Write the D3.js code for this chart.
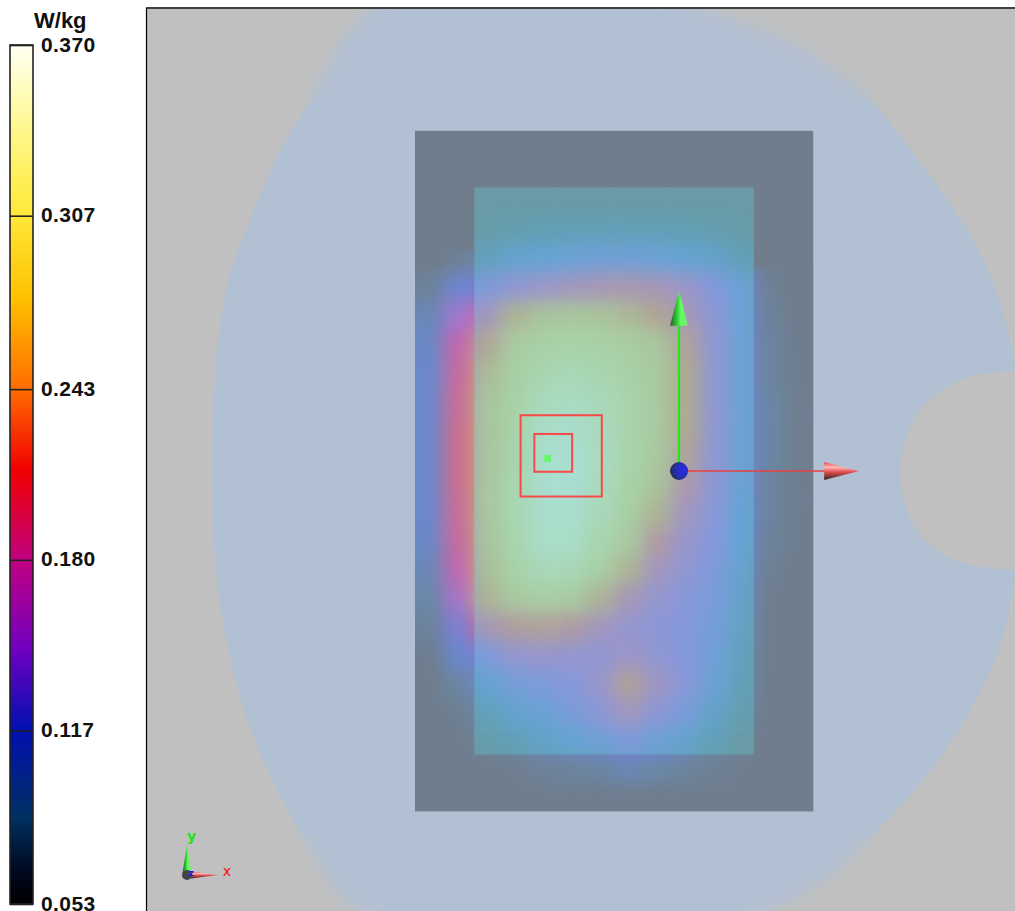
<!DOCTYPE html>
<html>
<head>
<meta charset="utf-8">
<title>SAR distribution</title>
<script src="https://d3js.org/d3.v7.min.js"></script>
<style>
  html, body { margin: 0; padding: 0; background: #fff; }
  svg { display: block; }
  .legend text { font: 700 21px "Liberation Sans", Arial, sans-serif; letter-spacing: 0.4px; fill: #111; }
  .legend line, .legend path { stroke: #222; stroke-width: 1.6px; }
</style>
</head>
<body>
<svg width="1015" height="911"></svg>
<script>
// colour bar, W/kg
var legendTicks = [0.370, 0.307, 0.243, 0.180, 0.117, 0.053];
var legendValues = [0.370, 0.350, 0.323, 0.307, 0.276, 0.243, 0.213, 0.180, 0.147, 0.117, 0.085, 0.065, 0.053];
var legendColors = ["#fffff4", "#fffcb0", "#fff060", "#ffe838", "#ffc000", "#ff6c00", "#f00000", "#c00080", "#7000c0", "#0010b0", "#003060", "#000820", "#000000"];

// display colours of the field over the plate and over the board
var plateValues = [0.053, 0.080, 0.105, 0.135, 0.165, 0.200, 0.225, 0.250, 0.290, 0.330, 0.370];
var plateColors = ["#6a9aa4", "#62a0b8", "#66a4d4", "#8498dc", "#9c96c8", "#b098a8", "#b0a890", "#a9c49c", "#a8d2a8", "#a8dcc4", "#a8e0e0"];
var boardValues = [0.053, 0.080, 0.105, 0.125, 0.145, 0.165, 0.190, 0.215, 0.240];
var boardColors = ["#6f7d8d", "#6a88a8", "#6a88cc", "#7080d8", "#a078d0", "#c068b0", "#cc7088", "#c89888", "#c8a880"];

// SAR, W/kg; 7.5 mm cells, rows top to bottom
var sarRows = [
  [.053,.053,.053,.053,.053,.053,.053,.053,.053,.053,.053,.053,.053,.053],
  [.053,.053,.053,.053,.053,.053,.053,.053,.053,.053,.053,.053,.053,.053],
  [.053,.053,.055,.055,.055,.055,.055,.055,.055,.055,.055,.055,.053,.053],
  [.053,.053,.060,.070,.075,.080,.080,.080,.080,.075,.070,.060,.053,.053],
  [.053,.060,.085,.100,.105,.110,.115,.115,.110,.105,.095,.080,.053,.053],
  [.065,.110,.130,.150,.165,.175,.185,.190,.180,.165,.135,.110,.060,.053],
  [.090,.145,.175,.235,.250,.255,.250,.240,.220,.185,.145,.110,.065,.053],
  [.100,.165,.220,.270,.285,.290,.285,.275,.255,.215,.150,.110,.070,.053],
  [.105,.175,.240,.280,.300,.310,.300,.285,.265,.225,.150,.110,.070,.055],
  [.105,.180,.250,.285,.320,.325,.315,.295,.265,.225,.150,.110,.075,.055],
  [.105,.185,.250,.290,.335,.340,.320,.295,.265,.225,.150,.110,.075,.055],
  [.105,.185,.255,.295,.345,.350,.325,.295,.260,.215,.150,.110,.075,.055],
  [.105,.185,.255,.300,.345,.350,.320,.290,.250,.195,.145,.110,.070,.055],
  [.105,.180,.255,.300,.340,.345,.315,.280,.235,.175,.140,.105,.070,.055],
  [.100,.175,.250,.300,.335,.335,.300,.265,.205,.160,.135,.105,.065,.055],
  [.090,.165,.245,.290,.315,.310,.280,.235,.175,.150,.130,.100,.060,.053],
  [.080,.150,.235,.265,.280,.270,.235,.185,.155,.140,.125,.095,.055,.053],
  [.068,.130,.185,.210,.215,.205,.175,.155,.145,.135,.120,.090,.053,.053],
  [.056,.105,.130,.155,.160,.155,.150,.165,.150,.135,.115,.085,.053,.053],
  [.053,.075,.105,.120,.130,.140,.160,.215,.170,.140,.110,.080,.053,.053],
  [.053,.058,.085,.100,.110,.125,.145,.175,.145,.125,.095,.070,.053,.053],
  [.053,.053,.065,.080,.095,.105,.115,.130,.115,.100,.080,.058,.053,.053],
  [.053,.053,.053,.055,.065,.070,.075,.090,.080,.070,.060,.055,.053,.053],
  [.053,.053,.053,.053,.053,.053,.053,.053,.053,.053,.053,.053,.053,.053]
];

// outlines and boxes, mm from the feed point
var phantomOutline = [[-82.5,121.4],[-98.4,96.8],[-105.6,84.7],[-114.3,64.6],[-119.6,49.2],[-122.8,26.2],[-123.5,-1.6],[-122.8,-24.6],[-119.6,-46],[-114.3,-66],[-105.6,-86],[-98.4,-98.4],[-86,-115.3],[-30,-135],[25.9,-115.3],[39.2,-107.4],[51.3,-96.3],[67.2,-78.3],[76.2,-65],[84.9,-46.6],[88.9,-27],[90.5,0],[88.9,27.5],[84.9,44.7],[79.6,57.7],[70.9,72],[61.9,84.1],[51.3,97.4],[39.2,107.4],[26.7,114.5],[5.5,122.5],[-40,135]];
var notchOutline = [[105,26.5],[88.9,26.5],[75.1,24.3],[65.6,18.3],[60.6,10.3],[58.5,0],[60.6,-11.1],[65.6,-19],[75.1,-24.3],[88.9,-26.2],[105,-26.2]];
var boardBox = { x0: -69.9, x1: 35.5, y0: -90, y1: 90 };
var plateBox = { x0: -54.2, x1: 19.8, y0: -75, y1: 75 };
var fieldTop = 54;
var cube10g = { cx: -31.2, cy: 4, edge: 21.5 };
var cube1g = { cx: -33.3, cy: 4.8, edge: 10 };
var peakPoint = [-34.9, 3.2];
var axisLength = 47.6, coneLength = 9.2, coneHalf = 2.4;

var svg = d3.select("svg");
var defs = svg.append("defs");

var x = d3.scaleLinear().domain([-70, 35.5]).range([414.6, 813.2]);
var y = d3.scaleLinear().domain([-90, 90]).range([811.2, 130.8]);
var legendY = d3.scaleLinear().domain([0.370, 0.053]).range([45, 904]);
var plateColor = d3.scaleLinear().domain(plateValues).range(plateColors).clamp(true);
var boardColor = d3.scaleLinear().domain(boardValues).range(boardColors).clamp(true);

function gradient(id, x1, y1, x2, y2, stops) {
  var g = defs.append("linearGradient").attr("id", id)
      .attr("x1", x1).attr("y1", y1).attr("x2", x2).attr("y2", y2);
  stops.forEach(function(s) { g.append("stop").attr("offset", s[0]).attr("stop-color", s[1]); });
}
function clip(id, rects) {
  var c = defs.append("clipPath").attr("id", id);
  rects.forEach(function(r) {
    c.append("rect").attr("x", r[0]).attr("y", r[1]).attr("width", r[2]).attr("height", r[3]);
  });
}
function blur(id, amount) {
  defs.append("filter").attr("id", id)
      .attr("filterUnits", "userSpaceOnUse").attr("x", 0).attr("y", 0).attr("width", 1015).attr("height", 911)
      .attr("color-interpolation-filters", "sRGB")
    .append("feGaussianBlur").attr("stdDeviation", amount);
}

blur("soft", 9);
blur("fade", 7);
clip("frame", [[147, 9, 868, 902]]);
clip("phantomSharp", [[147, 100, 868, 736]]);
clip("fadeClip", [[147, 8, 726, 92], [147, 836, 726, 75]]);
clip("boardClip", [
  [x(boardBox.x0), y(fieldTop), x(boardBox.x1) - x(boardBox.x0), y(boardBox.y0) - y(fieldTop)],
  [443, 250, 31, y(fieldTop) - 250]
]);
clip("plateClip", [[x(plateBox.x0), y(plateBox.y1), x(plateBox.x1) - x(plateBox.x0), y(plateBox.y0) - y(plateBox.y1)]]);

// legend
var legend = svg.append("g").attr("class", "legend");
gradient("legendRamp", 0, 0, 0, 1, legendValues.map(function(v, i) {
  return [(legendY(v) - 45) / 859, legendColors[i]];
}));
legend.append("rect")
    .attr("x", 10).attr("y", legendY(0.370))
    .attr("width", 23).attr("height", legendY(0.053) - legendY(0.370))
    .attr("fill", "url(#legendRamp)")
    .attr("stroke", "#222").attr("stroke-width", 1.6);
legend.append("g").attr("transform", "translate(33,0)")
    .call(d3.axisRight(legendY).tickValues(legendTicks).tickFormat(d3.format(".3f"))
      .tickSize(-23).tickPadding(8));
legend.select(".domain").remove();
legend.selectAll(".tick text").attr("x", 8).attr("dy", "0.29em");
legend.append("text").attr("x", 34).attr("y", 28).style("font-size", "22px").style("letter-spacing", "0").text("W/kg");

// view
var view = svg.append("g").attr("clip-path", "url(#frame)");
view.append("rect").attr("x", 147).attr("y", 8).attr("width", 868).attr("height", 903).attr("fill", "#c0c0c0");

var straight = d3.line().x(function(d) { return x(d[0]); }).y(function(d) { return y(d[1]); });
var phantomPath = d3.line().x(function(d) { return x(d[0]); }).y(function(d) { return y(d[1]); })
    .curve(d3.curveCatmullRomClosed)(phantomOutline);
view.append("g").attr("clip-path", "url(#fadeClip)")
  .append("path").attr("d", phantomPath).attr("fill", "#b2c0d3").attr("filter", "url(#fade)");
view.append("g").attr("clip-path", "url(#phantomSharp)")
  .append("path").attr("d", phantomPath).attr("fill", "#b2c0d3");
view.append("path")
    .attr("d", d3.line().x(function(d) { return x(d[0]); }).y(function(d) { return y(d[1]); })
      .curve(d3.curveCatmullRom)(notchOutline))
    .attr("fill", "#c0c0c0");

view.append("rect")
    .attr("x", x(boardBox.x0)).attr("y", y(boardBox.y1))
    .attr("width", x(boardBox.x1) - x(boardBox.x0)).attr("height", y(boardBox.y0) - y(boardBox.y1))
    .attr("fill", boardColors[0]);

// field cells, the outermost ones run on past the clip so the blur does not fade out
var cellSize = 105.5 / sarRows[0].length;
var cellHeight = 180 / sarRows.length;
var cells = [];
sarRows.forEach(function(row, j) {
  row.forEach(function(v, i) {
    cells.push({ i: i, j: j, v: v });
  });
});
function drawField(clipId, color) {
  var g = view.append("g").attr("clip-path", "url(#" + clipId + ")")
    .append("g").attr("filter", "url(#soft)");
  g.selectAll("rect").data(cells).enter().append("rect")
      .attr("x", function(d) { return x(boardBox.x0 + d.i * cellSize) - (d.i == 0 ? 40 : 0); })
      .attr("y", function(d) { return y(boardBox.y1 - d.j * cellHeight) - (d.j == 0 ? 40 : 0); })
      .attr("width", function(d) {
        return x(cellSize) - x(0) + 0.5 + (d.i == 0 || d.i == sarRows[0].length - 1 ? 40 : 0);
      })
      .attr("height", function(d) {
        return y(0) - y(cellHeight) + 0.5 + (d.j == 0 || d.j == sarRows.length - 1 ? 40 : 0);
      })
      .attr("fill", function(d) { return color(d.v); });
}
drawField("boardClip", boardColor);
drawField("plateClip", plateColor);

// averaging cubes and peak
[cube10g, cube1g].forEach(function(c) {
  view.append("rect")
      .attr("x", x(c.cx - c.edge / 2)).attr("y", y(c.cy + c.edge / 2))
      .attr("width", x(c.edge) - x(0)).attr("height", y(0) - y(c.edge))
      .attr("fill", "none").attr("stroke", "#f84848").attr("stroke-width", 2);
});
view.append("rect")
    .attr("x", x(peakPoint[0]) - 3).attr("y", y(peakPoint[1]) - 4)
    .attr("width", 7).attr("height", 7).attr("fill", "#66f866");

// axes
gradient("coneGreen", 0, 0, 1, 0, [[0, "#2a5a2a"], [0.35, "#30c030"], [0.6, "#60ff60"], [1, "#80e080"]]);
gradient("coneRed", 0, 0, 0, 1, [[0, "#f04040"], [0.3, "#ffb8b8"], [0.55, "#e05050"], [1, "#302020"]]);
var ballGradient = defs.append("radialGradient").attr("id", "ball")
    .attr("cx", 0.7).attr("cy", 0.45).attr("r", 0.75);
ballGradient.append("stop").attr("offset", 0).attr("stop-color", "#2a2ae8");
ballGradient.append("stop").attr("offset", 0.55).attr("stop-color", "#2430b0");
ballGradient.append("stop").attr("offset", 1).attr("stop-color", "#2a2a30");

view.append("path")
    .attr("d", straight([[0, 0], [0, axisLength - coneLength]]))
    .attr("stroke", "#10f010").attr("stroke-width", 2).attr("fill", "none");
view.append("path")
    .attr("d", straight([[0, 0], [axisLength - coneLength, 0]]))
    .attr("stroke", "#e84040").attr("stroke-width", 1.6).attr("fill", "none");
view.append("path")
    .attr("d", straight([[0, axisLength], [-coneHalf, axisLength - coneLength], [coneHalf, axisLength - coneLength]]) + "Z")
    .attr("fill", "url(#coneGreen)");
view.append("path")
    .attr("d", straight([[axisLength, 0], [axisLength - coneLength, coneHalf], [axisLength - coneLength, -coneHalf]]) + "Z")
    .attr("fill", "url(#coneRed)");
view.append("circle").attr("cx", x(0)).attr("cy", y(0)).attr("r", 9).attr("fill", "url(#ball)");

// small triad, bottom left
var triad = view.append("g").attr("transform", "translate(187,875)");
var triadY = d3.scaleLinear().domain([0, axisLength]).range([0, -30]);
var triadX = d3.scaleLinear().domain([0, axisLength]).range([0, 31]);
triad.append("path")
    .attr("d", d3.line()([[0, triadY(axisLength)], [-4.5, triadY(3)], [4.5, triadY(3)]]) + "Z")
    .attr("fill", "url(#coneGreen)");
triad.append("path")
    .attr("d", d3.line()([[triadX(axisLength), 0], [triadX(6), -3.5], [triadX(6), 3.5]]) + "Z")
    .attr("fill", "url(#coneRed)");
triad.append("circle").attr("r", 5).attr("fill", "#444");
triad.append("text").attr("x", 4).attr("y", 1).attr("text-anchor", "middle")
    .attr("font-family", "DejaVu Sans").attr("font-size", 9).attr("font-weight", 700).attr("fill", "#1818f0").text("z");
view.append("text").attr("x", 191.5).attr("y", 841).attr("text-anchor", "middle")
    .attr("font-family", "DejaVu Sans").attr("font-size", 14).attr("font-weight", 700).attr("fill", "#20e020").text("y");
view.append("text").attr("x", 227).attr("y", 876).attr("text-anchor", "middle")
    .attr("font-family", "DejaVu Sans").attr("font-size", 14).attr("fill", "#f01010").text("x");

// frame lines
svg.append("line").attr("x1", 146).attr("x2", 1015).attr("y1", 8).attr("y2", 8).attr("stroke", "#000").attr("stroke-width", 1.5);
svg.append("line").attr("x1", 146.5).attr("x2", 146.5).attr("y1", 8).attr("y2", 911).attr("stroke", "#000").attr("stroke-width", 1.2);
</script>
</body>
</html>
